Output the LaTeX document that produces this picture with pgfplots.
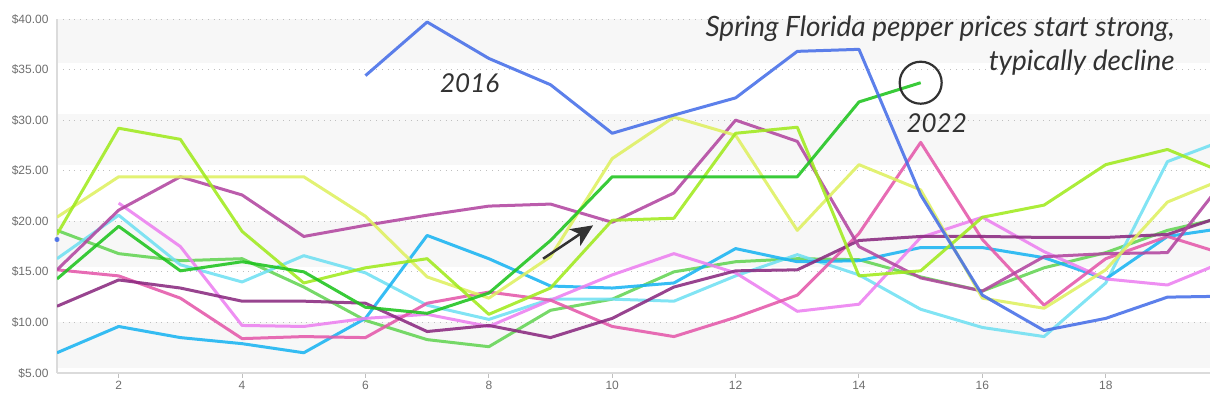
\documentclass[border=0pt]{standalone}
\usepackage{pgfplots}
\pgfplotsset{compat=1.18}
\usepackage{fontspec}
\setmainfont{Liberation Sans}
\newfontfamily\hand{Lato}
\usetikzlibrary{arrows.meta}
\definecolor{cBlue}{RGB}{70,110,232}
\definecolor{cGreen}{RGB}{30,196,30}
\definecolor{cLime}{RGB}{160,234,30}
\definecolor{cYellow}{RGB}{222,240,96}
\definecolor{cMag}{RGB}{178,70,160}
\definecolor{cPurp}{RGB}{138,42,128}
\definecolor{cPink}{RGB}{228,88,170}
\definecolor{cOrchid}{RGB}{236,128,240}
\definecolor{cSky}{RGB}{26,180,242}
\definecolor{cCyan}{RGB}{112,224,242}
\definecolor{cMid}{RGB}{100,212,84}
\definecolor{band}{RGB}{247,247,247}
\definecolor{tickgray}{RGB}{110,110,110}
\definecolor{ink}{RGB}{50,50,50}
\pgfplotsset{set layers}
\begin{document}
\begin{tikzpicture}
\begin{axis}[
  scale only axis, width=1153pt, height=354pt,
  xmin=1, xmax=19.69, ymin=5, ymax=40,
  clip mode=individual,
  axis x line=bottom, axis y line=left,
  axis line style={-, draw=black!14, line width=1.5pt},
  xtick={2,4,...,18}, ytick={5,10,...,40},
  tick align=outside, major tick length=5pt,
  xtick style={draw=black!25, line width=1pt},
  ytick style={draw=none},
  ymajorgrids, major grid style={black!25, line width=0.8pt, dash pattern=on 0.8pt off 5pt},
  /pgf/number format/assume math mode=true,
  tick label style={font=\fontsize{12}{14}\selectfont, text=tickgray},
  yticklabel={\$\pgfmathprintnumber[fixed,fixed zerofill,precision=2]{\tick}},
  every axis plot/.append style={line width=3pt, opacity=0.88, line join=round},
]
\begin{pgfonlayer}{axis background}
\fill[band] (axis cs:1,35.6) rectangle (axis cs:19.69,40);
\fill[band] (axis cs:1,25.6) rectangle (axis cs:19.69,30.6);
\fill[band] (axis cs:1,15.5) rectangle (axis cs:19.69,20);
\fill[band] (axis cs:1,5.5) rectangle (axis cs:19.69,10);
\end{pgfonlayer}
% medium green
\addplot[cMid] coordinates {(1,19.1)(2,16.8)(3,16.1)(4,16.3)(5,13.5)(6,10.2)(7,8.3)(8,7.6)(9,11.2)(10,12.3)(11,15.0)(12,16.0)(13,16.3)(14,16.2)(15,14.5)(16,13.1)(17,15.4)(18,16.9)(19,19.1)(20,20.5)};
% light cyan
\addplot[cCyan] coordinates {(1,16.3)(2,20.6)(3,15.7)(4,14.0)(5,16.6)(6,14.9)(7,11.7)(8,10.3)(9,12.3)(10,12.3)(11,12.1)(12,14.6)(13,16.7)(14,14.7)(15,11.3)(16,9.5)(17,8.6)(18,13.9)(19,25.9)(20,28.2)};
% sky blue
\addplot[cSky] coordinates {(1,7.0)(2,9.6)(3,8.5)(4,7.9)(5,7.0)(6,10.4)(7,18.6)(8,16.3)(9,13.6)(10,13.4)(11,13.9)(12,17.3)(13,16.0)(14,16.1)(15,17.4)(16,17.4)(17,16.4)(18,14.3)(19,18.5)(20,19.4)};
% orchid
\addplot[cOrchid] coordinates {(2,21.8)(3,17.5)(4,9.7)(5,9.6)(6,10.4)(7,10.8)(8,9.6)(9,12.2)(10,14.7)(11,16.8)(12,14.9)(13,11.1)(14,11.8)(15,18.4)(16,20.4)(17,17.0)(18,14.3)(19,13.7)(20,16.2)};
% pink
\addplot[cPink] coordinates {(1,15.2)(2,14.6)(3,12.4)(4,8.4)(5,8.6)(6,8.5)(7,11.9)(8,13.0)(9,12.2)(10,9.6)(11,8.6)(12,10.5)(13,12.7)(14,18.8)(15,27.8)(16,18.2)(17,11.7)(18,16.3)(19,18.5)(20,16.6)};
% dark purple
\addplot[cPurp] coordinates {(1,11.6)(2,14.2)(3,13.4)(4,12.1)(5,12.1)(6,11.9)(7,9.1)(8,9.7)(9,8.5)(10,10.4)(11,13.5)(12,15.1)(13,15.2)(14,18.1)(15,18.5)(16,18.5)(17,18.4)(18,18.4)(19,18.7)(20,20.7)};
% magenta
\addplot[cMag] coordinates {(1,15.2)(2,21.1)(3,24.4)(4,22.6)(5,18.5)(6,19.6)(7,20.6)(8,21.5)(9,21.7)(10,19.9)(11,22.8)(12,30.0)(13,27.9)(14,17.5)(15,14.4)(16,13.1)(17,16.5)(18,16.8)(19,16.9)(20,24.7)};
% pale yellow
\addplot[cYellow] coordinates {(1,20.4)(2,24.4)(3,24.4)(4,24.4)(5,24.4)(6,20.5)(7,14.5)(8,12.4)(9,16.5)(10,26.2)(11,30.3)(12,28.5)(13,19.1)(14,25.6)(15,23.1)(16,12.4)(17,11.4)(18,15.2)(19,21.9)(20,24.4)};
% lime
\addplot[cLime] coordinates {(1,18.7)(2,29.2)(3,28.1)(4,19.0)(5,13.9)(6,15.4)(7,16.3)(8,10.8)(9,13.4)(10,20.1)(11,20.3)(12,28.7)(13,29.3)(14,14.6)(15,15.1)(16,20.4)(17,21.6)(18,25.6)(19,27.1)(20,24.6)};
% 2022
\addplot[cGreen] coordinates {(1,14.3)(2,19.5)(3,15.1)(4,16.0)(5,15.0)(6,11.5)(7,10.9)(8,12.9)(9,18.1)(10,24.4)(11,24.4)(12,24.4)(13,24.4)(14,31.8)(15,33.7)};
% 2016
\addplot[cBlue] coordinates {(6,34.4)(7,39.7)(8,36.1)(9,33.5)(10,28.7)(11,30.5)(12,32.2)(13,36.8)(14,37.0)(15,22.6)(16,12.7)(17,9.2)(18,10.4)(19,12.5)(20,12.6)};
\addplot[cBlue, only marks, mark=*, mark size=1.3pt] coordinates {(1,18.2)};
% annotations
\node[anchor=east, font=\hand\itshape\fontsize{28}{32}\selectfont, text=ink, inner sep=0pt] at (axis cs:19.12,39.0) {Spring Florida pepper prices start strong,};
\node[anchor=east, font=\hand\itshape\fontsize{28}{32}\selectfont, text=ink, inner sep=0pt] at (axis cs:19.12,35.7) {typically decline};
\node[font=\hand\itshape\fontsize{26}{30}\selectfont, text=ink] at (axis cs:7.69,33.7) {2016};
\node[font=\hand\itshape\fontsize{26}{30}\selectfont, text=ink] at (axis cs:15.26,29.7) {2022};
\draw[ink, line width=2.2pt] (axis cs:15,33.7) circle[radius=21pt];
\draw[ink, line width=2.5pt, -{Stealth[length=22pt,width=20pt,inset=6pt]}] (axis cs:8.88,16.3) -- (axis cs:9.69,19.6);
\end{axis}
\pgfresetboundingbox
\path ([shift={(-57pt,-26pt)}]current axis.south west) rectangle ([shift={(0pt,19pt)}]current axis.north east);
\end{tikzpicture}
\end{document}
